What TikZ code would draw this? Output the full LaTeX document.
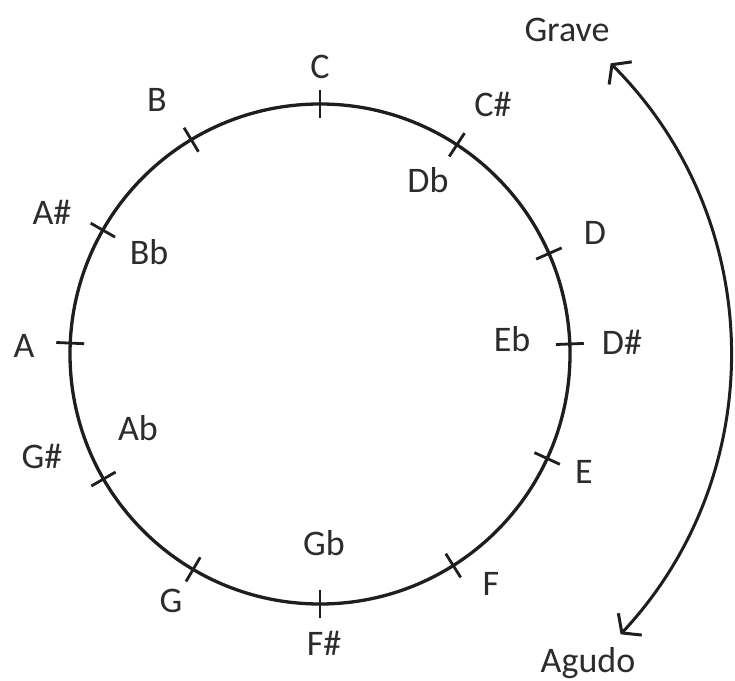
\documentclass[tikz,border=0pt]{standalone}
\usepackage{fontspec}
\setmainfont{Carlito}
\usetikzlibrary{calc,arrows.meta}
\definecolor{ink}{HTML}{1E1E1E}
\definecolor{txt}{HTML}{2C2C2C}
\begin{document}
\begin{tikzpicture}[x=1pt,y=1pt,
  lbl/.style={anchor=base,inner sep=0pt,text=txt,font=\fontsize{36}{40}\selectfont},
  ring/.style={draw=ink,line width=3.3pt},
  tick/.style={draw=ink,line width=2.8pt},
  pitch/.style={draw=ink,line width=3pt,{Straight Barb[length=12pt,width=32pt,line width=3pt]}-{Straight Barb[length=12pt,width=32pt,line width=3pt]}}]
\useasboundingbox (0,0) rectangle (735,680);
\coordinate (O) at (320,326);
\draw[ring] (O) circle[radius=250];
\foreach \a in {90,56.8,23.7,2.3,-24.7,-57.8,-90,-120.5,-150,177.5,150.3,121}{
  \draw[tick] ($(O)+(\a:236)$) -- ($(O)+(\a:264)$);
}
% note labels (x, baseline y = 680 - image y)
\node[lbl] (C)  at (320,601) {C};
\node[lbl] (Cs) at (493,563) {C\#};
\node[lbl] (Db) at (428,487) {Db};
\node[lbl] (D)  at (595,435) {D};
\node[lbl] (Ds) at (622,325) {D\#};
\node[lbl] (Eb) at (512,328) {Eb};
\node[lbl] (E)  at (584,197) {E};
\node[lbl] (F)  at (491,85)  {F};
\node[lbl] (Fs) at (324,25)  {F\#};
\node[lbl] (Gb) at (324,125) {Gb};
\node[lbl] (G)  at (171,68)  {G};
\node[lbl] (Gs) at (42,212)  {G\#};
\node[lbl] (Ab) at (138,240) {Ab};
\node[lbl] (A)  at (24,322)  {A};
\node[lbl] (As) at (52,455)  {A\#};
\node[lbl] (Bb) at (149,415) {Bb};
\node[lbl] (B)  at (157,568) {B};
\node[lbl] (grave) at (567,638) {Grave};
\node[lbl] (agudo) at (588,8) {Agudo};
\coordinate (gs) at ($(O)+(45:411)$);
\draw[pitch] (gs) arc[start angle=45,end angle=-43,radius=411] coordinate (ae);
\end{tikzpicture}
\end{document}
